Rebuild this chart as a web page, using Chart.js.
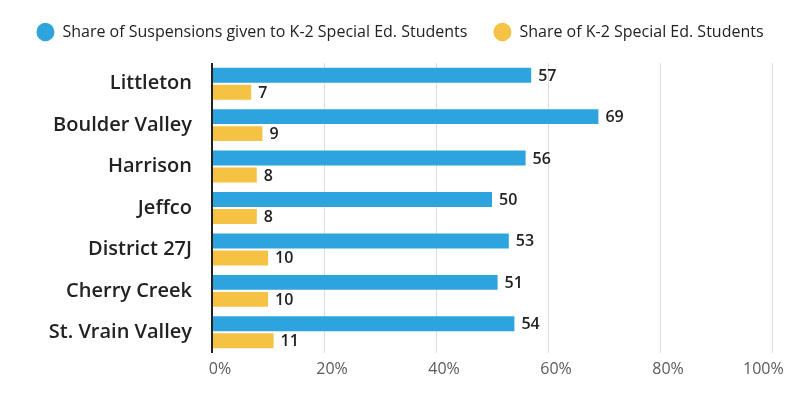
<!DOCTYPE html>
<html>
<head>
<meta charset="utf-8">
<script src="https://cdn.jsdelivr.net/npm/chart.js@4.4.1/dist/chart.umd.min.js"></script>
<style>
  html, body { margin: 0; padding: 0; background: #fff; }
  #wrap { width: 800px; height: 399px; }
</style>
</head>
<body>
<div id="wrap"><canvas id="chart" width="800" height="399"></canvas></div>
<script>
// Data
const districts = ['Littleton', 'Boulder Valley', 'Harrison', 'Jeffco', 'District 27J', 'Cherry Creek', 'St. Vrain Valley'];
const suspensionShare = [57, 69, 56, 50, 53, 51, 54];
const studentShare = [7, 9, 8, 8, 10, 10, 11];
const xTickValues = [0, 20, 40, 60, 80, 100];

const BLUE = '#2ea4de';
const YELLOW = '#f6c243';
const FONT = '"Open Sans", Lato, sans-serif';

// Value labels after the end of each bar
const valueLabels = {
  id: 'valueLabels',
  afterDatasetsDraw(chart) {
    const ctx = chart.ctx;
    ctx.save();
    ctx.font = '600 16px ' + FONT;
    ctx.fillStyle = '#222';
    ctx.textBaseline = 'middle';
    ctx.textAlign = 'left';
    chart.data.datasets.forEach((ds, i) => {
      chart.getDatasetMeta(i).data.forEach((bar, j) => {
        ctx.fillText(ds.data[j], bar.x + 7, bar.y + 1);
      });
    });
    ctx.restore();
  }
};

// Keep the legend on one row across the full canvas, fixed block height
const legendHeight = {
  id: 'legendHeight',
  beforeInit(chart) {
    const origFit = chart.legend.fit;
    chart.legend.fit = function () {
      const w = this.maxWidth;
      this.maxWidth = 2000;
      origFit.bind(chart.legend)();
      this.maxWidth = w;
      this.width = w;
      this.height = 63;
    };
  },
  afterLayout(chart) {
    chart.legend.left = 0;
    chart.legend.right = chart.width;
    chart.legend.width = chart.width;
    chart.legend.top = -2;
  }
};

new Chart(document.getElementById('chart'), {
  type: 'bar',
  data: {
    labels: districts,
    datasets: [
      {
        label: 'Share of Suspensions given to K-2 Special Ed. Students',
        data: suspensionShare,
        backgroundColor: BLUE,
        categoryPercentage: 0.82,
        barPercentage: 0.88
      },
      {
        label: 'Share of K-2 Special Ed. Students',
        data: studentShare,
        backgroundColor: YELLOW,
        categoryPercentage: 0.82,
        barPercentage: 0.88
      }
    ]
  },
  options: {
    indexAxis: 'y',
    responsive: false,
    animation: false,
    devicePixelRatio: 1,
    layout: { padding: { left: 10, right: 28, top: 0, bottom: 0 } },
    scales: {
      x: {
        min: 0,
        max: 100,
        afterBuildTicks(scale) {
          scale.ticks = xTickValues.map(v => ({ value: v }));
        },
        afterFit(scale) {
          scale.height = 46;
          // don't let the padded last label eat into the plot width
          scale.paddingLeft = 0;
          scale.paddingRight = 0;
        },
        grid: {
          color: (c) => c.index === 0 ? '#222' : '#dddddd',
          lineWidth: (c) => c.index === 0 ? 2 : 1,
          drawTicks: false
        },
        border: { display: false },
        ticks: {
          padding: 7,
          labelOffset: 8,
          color: '#5a5a5a',
          font: { family: FONT, size: 16 },
          // last label sits left of its gridline in the reference
          callback: (v) => v === 100 ? v + '%        ' : v + '%'
        }
      },
      y: {
        afterFit(scale) { scale.width = 202; },
        grid: { display: false, drawTicks: false },
        border: { display: false },
        ticks: {
          padding: 20,
          color: '#222',
          font: { family: FONT, size: 20, weight: '600' }
        }
      }
    },
    plugins: {
      legend: {
        position: 'top',
        labels: {
          usePointStyle: true,
          pointStyle: 'circle',
          pointStyleWidth: 18,
          boxHeight: 13,
          padding: 26,
          color: '#222',
          font: { family: FONT, size: 16 }
        }
      },
      tooltip: { enabled: false }
    }
  },
  plugins: [valueLabels, legendHeight]
});
</script>
</body>
</html>
